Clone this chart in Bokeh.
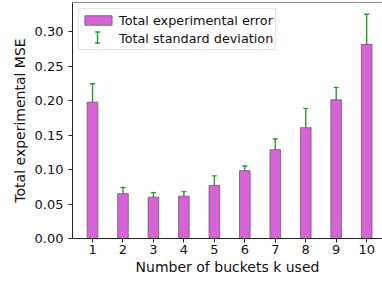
from bokeh.plotting import figure
from bokeh.models import (ColumnDataSource, Whisker, TeeHead, Legend, LegendItem,
                          FixedTicker, PrintfTickFormatter, Range1d, Span)
from bokeh.embed import file_html
from bokeh.resources import INLINE

# ---- data ----
buckets = [1, 2, 3, 4, 5, 6, 7, 8, 9, 10]
total_error = [0.198, 0.065, 0.060, 0.0615, 0.077, 0.0985, 0.129, 0.161, 0.2015, 0.282]
total_std = [0.0267, 0.009, 0.0066, 0.0065, 0.014, 0.0068, 0.0155, 0.028, 0.018, 0.0436]
y_ticks = [0.00, 0.05, 0.10, 0.15, 0.20, 0.25, 0.30]
x_ticks = buckets

lower = [m - s for m, s in zip(total_error, total_std)]
upper = [m + s for m, s in zip(total_error, total_std)]
src = ColumnDataSource(dict(k=buckets, mse=total_error, lo=lower, up=upper))

FONT = "DejaVu Sans"
BAR_FILL = "#D763D6"
ERR_COL = "#2a9a2a"
INK = "#111111"

W, H = 382, 285
ML, MT, MB = 72, 2, 47
frame_h = H - MT - MB

p = figure(width=W, height=H, output_backend="svg", toolbar_location=None,
           x_range=Range1d(0.343, 10.52), y_range=Range1d(0.0, 0.3427),
           min_border_left=ML, min_border_right=0, min_border_top=MT, min_border_bottom=MB)
p.outline_line_color = None
p.outline_line_alpha = 0
p.xgrid.visible = False
p.ygrid.visible = False
p.background_fill_color = "white"
p.border_fill_color = "white"

bars = p.vbar(x="k", top="mse", width=0.35, source=src, fill_color=BAR_FILL,
              line_color="#555555", line_alpha=0.7, line_width=1)

err = Whisker(source=src, base="k", lower="lo", upper="up", dimension="height",
              line_color=ERR_COL, line_width=1.4)
err.upper_head = TeeHead(size=5, line_color=ERR_COL, line_width=1.4)
err.lower_head = TeeHead(size=5, line_color=ERR_COL, line_width=1.4)
p.add_layout(err)

# invisible proxy renderer for the error-bar legend entry
err_proxy = p.scatter(x="k", y="mse", source=src, marker="dash", size=0,
                      line_alpha=0, fill_alpha=0)

# top spine; the right side of the frame is cut off in the reference, keep it blank
p.add_layout(Span(location=p.y_range.end, dimension="width", line_color="#222222", line_width=1))
p.add_layout(Span(location=p.x_range.end, dimension="height", line_color="white",
                  line_width=3, level="overlay"))

# axes
for ax in (p.xaxis[0], p.yaxis[0]):
    ax.axis_line_color = "#222222"
    ax.major_tick_line_color = "#222222"
    ax.major_tick_out = 4
    ax.major_tick_in = 0
    ax.minor_tick_line_color = None
    ax.major_label_text_font = FONT
    ax.major_label_text_font_size = "13px"
    ax.major_label_text_color = INK
    ax.axis_label_text_font = FONT
    ax.axis_label_text_font_size = "14px"
    ax.axis_label_text_font_style = "normal"
    ax.axis_label_text_color = INK

p.xaxis.ticker = FixedTicker(ticks=x_ticks)
p.yaxis.ticker = FixedTicker(ticks=y_ticks)
p.yaxis.formatter = PrintfTickFormatter(format="%.2f")
p.xaxis.major_label_standoff = 2
p.yaxis.major_label_standoff = 5
p.xaxis.axis_label = "Number of buckets k used"
p.yaxis.axis_label = "Total experimental MSE"
p.xaxis.axis_label_standoff = 2
p.yaxis.axis_label_standoff = 4

# legend
LEG_MARGIN, LEG_PAD, LEG_SPACING = 6, 2, 0
GLYPH_W, GLYPH_H, LABEL_H = 34, 12, 18
legend = Legend(items=[LegendItem(label="Total experimental error", renderers=[bars]),
                       LegendItem(label="Total standard deviation", renderers=[err_proxy])],
                location="top_left", margin=LEG_MARGIN, padding=LEG_PAD, spacing=LEG_SPACING,
                glyph_width=GLYPH_W, glyph_height=GLYPH_H, label_height=LABEL_H,
                label_standoff=4, label_text_font=FONT, label_text_font_size="12.8px",
                label_text_color=INK,
                border_line_color="#cccccc", border_line_width=1,
                background_fill_color="white", background_fill_alpha=0)
p.add_layout(legend)

# error-bar icon in the legend (screen units, relative to the frame)
icon_cx = LEG_MARGIN + LEG_PAD + GLYPH_W / 2
row2_c = LEG_MARGIN + LEG_PAD + LABEL_H + LEG_SPACING + LABEL_H / 2
icon_src = ColumnDataSource(dict(b=[icon_cx], lo=[frame_h - row2_c - 5.5], up=[frame_h - row2_c + 5.5]))
icon = Whisker(source=icon_src, base="b", lower="lo", upper="up", dimension="height",
               base_units="screen", lower_units="screen", upper_units="screen",
               line_color=ERR_COL, line_width=1.5, level="overlay")
icon.upper_head = TeeHead(size=5, line_color=ERR_COL, line_width=1.5)
icon.lower_head = TeeHead(size=5, line_color=ERR_COL, line_width=1.5)
p.add_layout(icon)

open("out.html", "w").write(file_html(p, INLINE))
